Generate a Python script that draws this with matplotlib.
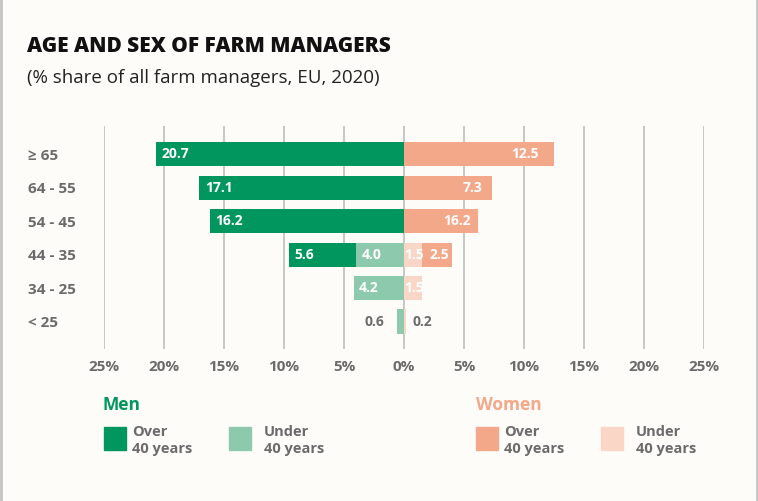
import matplotlib
matplotlib.use('Agg')
import matplotlib.pyplot as plt
from matplotlib.patches import Rectangle
from matplotlib.lines import Line2D

plt.rcParams['font.family'] = ['Open Sans', 'DejaVu Sans']

# Data (% share of all farm managers, EU, 2020)
age_groups = ['≥ 65', '64 - 55', '54 - 45', '44 - 35', '34 - 25', '< 25']
men_over40 = [20.7, 17.1, 16.2, 5.6, 0, 0]
men_under40 = [0, 0, 0, 4.0, 4.2, 0.6]
women_over40 = [12.5, 7.3, 6.2, 2.5, 0, 0]
women_under40 = [0, 0, 0, 1.5, 1.5, 0.2]
# labels as printed in the source chart
women_over40_labels = ['12.5', '7.3', '16.2', '2.5', '', '']
tick_values = [-25, -20, -15, -10, -5, 0, 5, 10, 15, 20, 25]
tick_labels = ['25%', '20%', '15%', '10%', '5%', '0%', '5%', '10%', '15%', '20%', '25%']

BG = '#FEFCF8'
MEN_DARK = '#00965E'
MEN_LIGHT = '#8DCAAD'
WOMEN_DARK = '#F4A88A'
WOMEN_LIGHT = '#F9D6C6'
GREY_TEXT = '#6B6B6B'
GRID = '#BEBEBE'

W, H = 758, 501
fig = plt.figure(figsize=(W / 100, H / 100), dpi=100, facecolor=BG)

def px(x, y):
    # pixel coords (from top-left) -> figure fraction
    return x / W, 1 - y / H

# axes spanning the gridlines
ax = fig.add_axes([104 / W, 1 - 349 / H, 600 / W, 223 / H])
ax.set_facecolor(BG)
ax.set_xlim(-25, 25)
ax.set_ylim(5.82, -0.84)

y = list(range(len(age_groups)))
bh = 0.72
neg = lambda vals: [-v for v in vals]
ax.barh(y, neg(men_under40), height=bh, color=MEN_LIGHT, zorder=3)
ax.barh(y, neg(men_over40), left=neg(men_under40), height=bh, color=MEN_DARK, zorder=3)
ax.barh(y, women_under40, height=bh, color=WOMEN_LIGHT, zorder=3)
ax.barh(y, women_over40, left=women_under40, height=bh, color=WOMEN_DARK, zorder=3)

ax.set_xticks(tick_values)
ax.grid(axis='x', color=GRID, linewidth=1.2, zorder=0)
ax.tick_params(axis='x', length=0, pad=8)
ax.set_xticklabels(tick_labels, fontsize=11, fontweight='bold', color=GREY_TEXT)
ax.set_yticks(y)
ax.set_yticklabels(age_groups, fontsize=11, fontweight='bold', color=GREY_TEXT, ha='left')
ax.tick_params(axis='y', length=0, pad=(104 - 28) * 0.72)
for s in ax.spines.values():
    s.set_visible(False)

lab = dict(fontsize=10, fontweight='bold', va='center', zorder=4)
for i in y:
    mu, mo = men_under40[i], men_over40[i]
    wu, wo = women_under40[i], women_over40[i]
    if mo > 0:
        ax.text(-(mu + mo) + 0.5, i, f'{mo:.1f}', color='white', ha='left', **lab)
    if mu > 0:
        if mu >= 1:
            ax.text(-mu + 0.45, i, f'{mu:.1f}', color='white', ha='left', **lab)
        else:
            ax.text(-mu - 1.0, i, f'{mu:.1f}', color=GREY_TEXT, ha='right', **lab)
    if wu > 0:
        if wu >= 1:
            ax.text(0.05, i, f'{wu:.1f}', color='white', ha='left', **lab)
        else:
            ax.text(wu + 0.5, i, f'{wu:.1f}', color=GREY_TEXT, ha='left', **lab)
    if wo > 0:
        pad = min(1.4, wo * 0.1)
        ax.text(wu + wo - pad, i, women_over40_labels[i], color='white', ha='right', **lab)

# titles
fig.text(*px(27, 46), 'AGE AND SEX OF FARM MANAGERS', fontsize=15, fontweight='heavy',
         color='#111111', va='center', ha='left')
fig.text(*px(27, 78), '(% share of all farm managers, EU, 2020)', fontsize=13.5,
         color='#222222', va='center', ha='left')

# legend
fig.text(*px(103, 405), 'Men', fontsize=12.5, fontweight='bold', color=MEN_DARK,
         va='center', ha='left')
fig.text(*px(476, 405), 'Women', fontsize=12.5, fontweight='bold', color=WOMEN_DARK,
         va='center', ha='left')
legend_items = [(104, MEN_DARK, 'Over'), (229, MEN_LIGHT, 'Under'),
                (476, WOMEN_DARK, 'Over'), (601, WOMEN_LIGHT, 'Under')]
for x0, col, word in legend_items:
    x1, y1 = px(x0, 450)
    fig.patches.append(Rectangle((x1, y1), 22 / W, 23 / H, transform=fig.transFigure,
                                 color=col, zorder=2))
    tx = x0 + 28 if word == 'Over' else x0 + 35
    fig.text(*px(tx, 432), word, fontsize=10.5, fontweight='bold', color=GREY_TEXT,
             va='center', ha='left')
    fig.text(*px(tx, 449), '40 years', fontsize=10.5, fontweight='bold', color=GREY_TEXT,
             va='center', ha='left')

# side borders
for xb in (1, 756.5):
    fig.add_artist(Line2D([xb / W, xb / W], [0, 1], transform=fig.transFigure,
                          color='#C4C4C4', linewidth=2))

fig.savefig('out.png', dpi=100, facecolor=BG)
